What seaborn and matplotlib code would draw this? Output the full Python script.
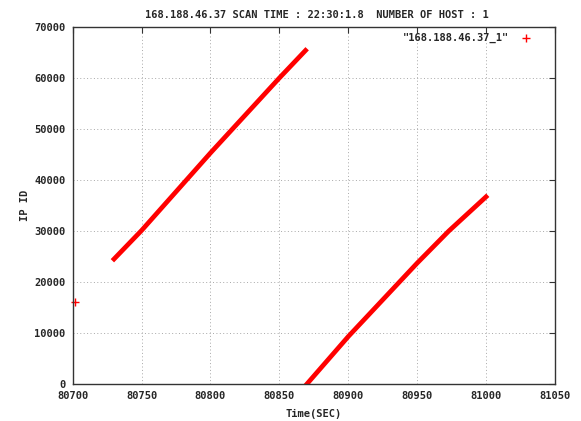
import numpy as np
import pandas as pd
import matplotlib
matplotlib.use("Agg")
import matplotlib.pyplot as plt
from matplotlib.lines import Line2D
import seaborn as sns

# dane
seg1_time = [80730, 80750, 80800, 80850, 80869]
seg1_ipid = [24500, 30100, 45300, 60000, 65400]

seg2_time = [80870, 80900, 80950, 80973, 81000]
seg2_ipid = [0, 9300, 23700, 30000, 36700]

lone_time = [80702]
lone_ipid = [16000]

x_ticks = [80700, 80750, 80800, 80850, 80900, 80950, 81000, 81050]
y_ticks = [0, 10000, 20000, 30000, 40000, 50000, 60000, 70000]

title = "168.188.46.37 SCAN TIME : 22:30:1.8  NUMBER OF HOST : 1"
series_name = '"168.188.46.37_1"'

sns.set_style("white")
plt.rcParams['font.family'] = ['DejaVu Sans Mono']
plt.rcParams['font.weight'] = 'bold'

fig = plt.figure(figsize=(5.81, 4.21), dpi=100)
ax = fig.add_axes([0.1251, 0.0879, 0.830, 0.848])

red = '#ff0000'
for t, v in [(seg1_time, seg1_ipid), (seg2_time, seg2_ipid)]:
    df = pd.DataFrame({'t': t, 'v': v})
    sns.lineplot(data=df, x='t', y='v', sort=False, color=red, linewidth=3.4,
                 solid_capstyle='projecting', solid_joinstyle='round', ax=ax)
sns.scatterplot(x=lone_time, y=lone_ipid, marker='+', color=red, s=30,
                linewidth=1, ax=ax)
for c in ax.collections:
    c.set_clip_on(False)

ax.set_xlim(80700, 81050)
ax.set_ylim(0, 70000)
ax.set_xticks(x_ticks)
ax.set_yticks(y_ticks)
ax.tick_params(direction='in', length=4, width=0.8, top=True, right=True,
               labelsize=7.5, color='#333333', pad=5)
ax.grid(True, linestyle=(0, (1, 2.5)), color='#a8a8a8', linewidth=0.7)
for s in ax.spines.values():
    s.set_color('#333333')
    s.set_linewidth(1)

ax.set_xlabel("Time(SEC)", fontsize=7.5, fontweight='bold', labelpad=6)
ax.set_ylabel("IP ID", fontsize=7.5, fontweight='bold', labelpad=3)
fig.text(0.546, 0.964, title, ha='center', va='center', fontsize=7.5, fontweight='bold')

handle = Line2D([], [], linestyle='none', marker='+', color=red, markersize=6, markeredgewidth=1)
ax.legend([handle], [series_name], loc='upper right', bbox_to_anchor=(0.975, 1.0),
          markerfirst=False, frameon=False, fontsize=7.5, handletextpad=0.6,
          borderaxespad=0.2)

fig.savefig("out.png", dpi=100)
